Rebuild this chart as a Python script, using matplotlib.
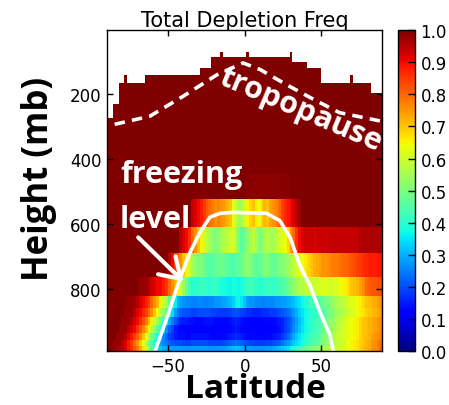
import numpy as np
import matplotlib
matplotlib.use("Agg")
import matplotlib.pyplot as plt

# Model level pressures (mb), used as cell corners of the height grid
levels = [3.64, 7.59, 14.36, 24.61, 38.27, 54.60, 72.01, 87.82, 103.32, 121.55,
          142.99, 168.23, 197.91, 232.83, 273.91, 322.24, 379.10, 445.99, 524.69,
          609.78, 691.39, 763.40, 820.86, 859.53, 887.02, 912.64, 936.20, 957.49,
          976.33, 992.56]
# Latitude cell corners
lat_edges = np.linspace(-90.0, 90.0, 96)

# Highest level (mb) with valid data in each latitude column
top_mb = ([273.91] * 2 + [232.83] * 2 + [168.23] * 2 + [142.99] + [168.23] * 6
          + [142.99] * 19 + [121.55] * 4 + [87.82] * 3 + [72.01] + [87.82] * 8
          + [72.01] + [87.82] * 14 + [72.01] + [103.32] * 5 + [121.55] * 5
          + [168.23] * 10 + [142.99] + [168.23] * 6 + [197.91] * 4)

# Depletion frequency per latitude column, one list per layer (named by top pressure)
freq_upper = [1.0] * 95
freq_446 = ([1.0] * 48
            + [0.99, 0.99, 0.985, 0.985, 0.985, 0.985, 0.985, 0.985, 0.985, 0.985,
               0.985, 0.99, 0.99, 0.99, 0.99]
            + [1.0] * 32)
freq_525 = ([1.0] * 29
            + [0.94, 0.92, 0.9, 0.88, 0.85, 0.82, 0.8, 0.78, 0.76, 0.77, 0.75, 0.74,
               0.72, 0.7, 0.62, 0.58, 0.55, 0.55, 0.6, 0.65, 0.68, 0.7, 0.66, 0.64,
               0.68, 0.72, 0.7, 0.74, 0.75, 0.77, 0.8, 0.84, 0.87, 0.89, 0.9, 0.92,
               0.95, 0.97]
            + [1.0] * 28)
freq_610 = ([1.0] * 25
            + [0.95, 0.92, 0.9, 0.86, 0.8, 0.75, 0.7, 0.65, 0.6, 0.58, 0.55, 0.52,
               0.5, 0.52, 0.55, 0.56, 0.58, 0.6, 0.6, 0.55, 0.5, 0.45, 0.48, 0.52,
               0.55, 0.58, 0.55, 0.5, 0.52, 0.55, 0.57, 0.55, 0.55, 0.58, 0.6, 0.62,
               0.64, 0.68, 0.75, 0.8, 0.86, 0.9]
            + [0.92, 0.93, 0.93, 0.93, 0.92, 0.93, 0.93, 0.94, 0.93, 0.93, 0.94]
            + [0.94] * 9 + [0.96] * 8)
freq_691 = ([1.0] * 21
            + [0.95, 0.9, 0.85, 0.8, 0.76, 0.7, 0.65, 0.6, 0.55, 0.52, 0.5]
            + [0.5, 0.48, 0.46, 0.45, 0.45, 0.47, 0.48, 0.48, 0.47]
            + [0.46, 0.45, 0.44, 0.45, 0.47, 0.48, 0.5]
            + [0.52, 0.5, 0.48, 0.46, 0.47, 0.48, 0.5, 0.5]
            + [0.48, 0.47, 0.48, 0.5, 0.5, 0.52, 0.54]
            + [0.55, 0.58, 0.6]
            + [0.62, 0.64, 0.66, 0.68]
            + [0.7, 0.72, 0.73, 0.74, 0.75, 0.75, 0.76, 0.77, 0.78]
            + [0.78, 0.79, 0.8, 0.8, 0.81, 0.82, 0.83, 0.84]
            + [0.85, 0.86, 0.87, 0.88, 0.88, 0.88, 0.89, 0.89])
freq_763 = ([1.0] * 11 + [0.98] * 3
            + [0.95, 0.93, 0.92, 0.9, 0.9, 0.88, 0.85, 0.8, 0.76, 0.72, 0.66, 0.6,
               0.54, 0.48, 0.43]
            + [0.4, 0.4, 0.41, 0.42, 0.42, 0.41, 0.4, 0.41, 0.42, 0.4, 0.38, 0.38]
            + [0.37, 0.37, 0.38, 0.38, 0.37, 0.38, 0.4, 0.42, 0.43, 0.42]
            + [0.41, 0.4, 0.4, 0.41, 0.42, 0.42, 0.41, 0.42, 0.43, 0.44, 0.46, 0.48, 0.5]
            + [0.52, 0.54, 0.56, 0.57, 0.58, 0.58]
            + [0.59, 0.6, 0.6, 0.61, 0.61, 0.62, 0.62, 0.6, 0.62, 0.62]
            + [0.64, 0.65, 0.66, 0.68, 0.7, 0.71]
            + [0.72, 0.74, 0.76]
            + [0.8, 0.81, 0.82, 0.82, 0.83, 0.83])
freq_821 = ([1.0, 1.0, 1.0, 1.0, 1.0, 1.0, 0.99, 0.98, 0.98, 0.97]
            + [0.95, 0.92, 0.9, 0.88, 0.85, 0.8, 0.76, 0.72, 0.65, 0.6, 0.55, 0.47,
               0.42, 0.36]
            + [0.3, 0.28, 0.27, 0.26, 0.26, 0.25, 0.25, 0.26, 0.26, 0.25, 0.25, 0.26,
               0.26, 0.27, 0.27, 0.28, 0.29]
            + [0.3, 0.31, 0.33, 0.36, 0.37, 0.35, 0.32]
            + [0.28, 0.27, 0.27, 0.26, 0.26, 0.25, 0.25, 0.26, 0.26, 0.26, 0.27, 0.27,
               0.28, 0.28, 0.29, 0.3, 0.31, 0.33]
            + [0.35, 0.37, 0.39, 0.41, 0.43, 0.44, 0.45]
            + [0.46, 0.47, 0.48, 0.5, 0.52, 0.54, 0.56, 0.57]
            + [0.58, 0.6, 0.61, 0.62, 0.63, 0.64]
            + [0.66, 0.68, 0.7, 0.71, 0.72, 0.73, 0.74, 0.75])
freq_860 = ([1.0] * 6 + [0.98] * 3
            + [0.95, 0.92, 0.9, 0.87, 0.84, 0.8, 0.76, 0.7, 0.64, 0.58, 0.52, 0.46,
               0.4, 0.34, 0.28]
            + [0.24, 0.22, 0.21, 0.2, 0.2, 0.19, 0.19, 0.2, 0.2, 0.2, 0.2, 0.2, 0.19,
               0.19, 0.18, 0.18, 0.18]
            + [0.18, 0.19, 0.2, 0.21, 0.2, 0.19, 0.18, 0.17, 0.17, 0.16, 0.16, 0.16,
               0.17, 0.17, 0.17, 0.18, 0.18]
            + [0.19, 0.2, 0.21, 0.22, 0.23, 0.25, 0.27, 0.3, 0.33]
            + [0.35, 0.37, 0.39, 0.4, 0.41, 0.42]
            + [0.43, 0.44, 0.46, 0.48, 0.5, 0.52, 0.54, 0.56]
            + [0.57, 0.58, 0.6, 0.61, 0.62, 0.64]
            + [0.66, 0.67, 0.69, 0.7, 0.71, 0.72, 0.73, 0.74])
freq_887 = ([1.0] * 5 + [0.98] * 3
            + [0.95, 0.92, 0.9, 0.87, 0.83, 0.78, 0.72, 0.66, 0.6, 0.54, 0.48, 0.42,
               0.36, 0.3, 0.25]
            + [0.21, 0.18, 0.16, 0.15, 0.15, 0.14, 0.14, 0.13, 0.13, 0.13, 0.14, 0.14,
               0.14, 0.14, 0.13, 0.13, 0.13, 0.13]
            + [0.13, 0.14, 0.15, 0.16, 0.15, 0.14, 0.13, 0.13, 0.12, 0.12, 0.12, 0.12,
               0.12, 0.12, 0.13, 0.13, 0.13, 0.14, 0.15, 0.16]
            + [0.18, 0.2, 0.22, 0.25, 0.28, 0.31, 0.34, 0.37]
            + [0.39, 0.41, 0.42, 0.43, 0.44, 0.46, 0.48, 0.5]
            + [0.52, 0.54, 0.56, 0.58, 0.6, 0.62, 0.63, 0.64, 0.65]
            + [0.66, 0.68, 0.7, 0.71, 0.72, 0.73, 0.74, 0.75, 0.76])
freq_913 = ([1.0] * 4 + [0.98] * 3
            + [0.95, 0.92, 0.9, 0.86, 0.82, 0.77, 0.71, 0.65, 0.58, 0.52, 0.46, 0.4,
               0.33, 0.27, 0.22]
            + [0.18, 0.15, 0.14, 0.13, 0.13, 0.12, 0.12, 0.12, 0.12, 0.12, 0.12, 0.12,
               0.13, 0.13, 0.12, 0.12, 0.12, 0.12, 0.12]
            + [0.12, 0.13, 0.14, 0.15, 0.14, 0.13, 0.12, 0.11, 0.11, 0.11, 0.11, 0.11,
               0.11, 0.11, 0.11, 0.12, 0.12, 0.13, 0.14, 0.16]
            + [0.18, 0.2, 0.23, 0.26, 0.29, 0.32, 0.35, 0.37]
            + [0.39, 0.41, 0.42, 0.43, 0.45, 0.47, 0.49, 0.51]
            + [0.53, 0.55, 0.57, 0.59, 0.61, 0.62, 0.63, 0.64, 0.65]
            + [0.66, 0.68, 0.7, 0.71, 0.72, 0.73, 0.74, 0.75, 0.76])
freq_936 = ([1.0] * 3 + [0.98] * 3
            + [0.95, 0.92, 0.89, 0.85, 0.81, 0.76, 0.7, 0.64, 0.57, 0.5, 0.44, 0.38,
               0.32, 0.26, 0.22]
            + [0.19, 0.17, 0.15, 0.14, 0.14, 0.14, 0.13, 0.13, 0.14, 0.14, 0.14, 0.14,
               0.14, 0.14, 0.14, 0.13, 0.13, 0.13, 0.13, 0.13]
            + [0.14, 0.15, 0.16, 0.17, 0.16, 0.15, 0.14, 0.13, 0.13, 0.13, 0.13, 0.12,
               0.12, 0.12, 0.13, 0.13, 0.14, 0.15, 0.16, 0.18]
            + [0.2, 0.23, 0.26, 0.29, 0.32, 0.35, 0.37, 0.39]
            + [0.41, 0.43, 0.44, 0.45, 0.47, 0.49, 0.51, 0.53]
            + [0.55, 0.57, 0.59, 0.6, 0.61, 0.62, 0.63, 0.64, 0.65]
            + [0.66, 0.68, 0.7, 0.71, 0.72, 0.74, 0.75, 0.76, 0.77])
freq_957 = ([1.0] * 2 + [0.98] * 3
            + [0.95, 0.92, 0.89, 0.85, 0.8, 0.75, 0.69, 0.63, 0.56, 0.5, 0.44, 0.38,
               0.33, 0.29, 0.26]
            + [0.24, 0.22, 0.21, 0.2, 0.2, 0.2, 0.19, 0.19, 0.19, 0.2, 0.2, 0.2, 0.2,
               0.2, 0.2, 0.19, 0.19, 0.19, 0.19, 0.19, 0.2]
            + [0.21, 0.22, 0.23, 0.24, 0.23, 0.22, 0.21, 0.2, 0.19, 0.19, 0.18, 0.18,
               0.18, 0.18, 0.19, 0.19, 0.2, 0.21, 0.22, 0.24]
            + [0.26, 0.28, 0.3, 0.32, 0.34, 0.36, 0.38, 0.4]
            + [0.42, 0.44, 0.45, 0.46, 0.48, 0.5, 0.52, 0.54]
            + [0.56, 0.57, 0.58, 0.59, 0.6, 0.62, 0.64, 0.65, 0.66]
            + [0.67, 0.69, 0.7, 0.72, 0.73, 0.75, 0.76, 0.78, 0.79])
freq_976 = ([1.0, 0.99, 0.98, 0.97, 0.96, 0.95, 0.92, 0.89, 0.86, 0.82, 0.78]
            + [0.73, 0.67, 0.6, 0.53, 0.46, 0.4, 0.35, 0.32]
            + [0.3, 0.29, 0.28, 0.28, 0.28, 0.28, 0.28, 0.28, 0.27, 0.27, 0.28, 0.28,
               0.28, 0.28, 0.28, 0.28, 0.27, 0.27, 0.27, 0.28, 0.28, 0.28]
            + [0.29, 0.3, 0.31, 0.32, 0.31, 0.3, 0.29, 0.28, 0.28, 0.27, 0.27, 0.27,
               0.27, 0.27, 0.28, 0.28, 0.29, 0.3, 0.31, 0.32]
            + [0.33, 0.35, 0.37, 0.39, 0.41, 0.43, 0.45, 0.47]
            + [0.48, 0.5, 0.51, 0.52, 0.53, 0.55, 0.56, 0.57]
            + [0.58, 0.59, 0.6, 0.61, 0.62, 0.63, 0.64, 0.65, 0.66]
            + [0.67, 0.69, 0.71, 0.72, 0.73, 0.75, 0.76, 0.78, 0.8])

# Freezing level (lat, mb)
freeze_lat = [-58.6, -51.0, -42.3, -35.7, -29.2, -22.7, -16.1, -7.4, 14.4, 23.1,
              29.7, 36.2, 42.7, 49.3, 55.8, 58.0]
freeze_p = [992, 892, 769, 688, 626, 580, 568, 565, 568, 591, 642, 729, 790, 872,
            943, 992]

# Tropopause (lat, mb)
tropo_lat = [-85, -62, -40, -18, -1, 10, 27, 45, 62, 90]
tropo_p = [294, 269, 207, 141, 105, 125, 171, 217, 258, 285]

cbar_ticks = [0.0, 0.1, 0.2, 0.3, 0.4, 0.5, 0.6, 0.7, 0.8, 0.9, 1.0]

# ---- assemble the latitude-height field ----
lower_rows = [freq_446, freq_525, freq_610, freq_691, freq_763, freq_821, freq_860,
              freq_887, freq_913, freq_936, freq_957, freq_976]
n_upper = len(levels) - 1 - len(lower_rows)
field = np.array([freq_upper] * n_upper + lower_rows, dtype=float)
row_tops = np.array(levels[:-1])
for j, top in enumerate(top_mb):
    field[row_tops < top - 0.01, j] = np.nan
field = np.ma.masked_invalid(field)

fig = plt.figure(figsize=(4.49, 4.06), dpi=100)
ax = fig.add_axes([0.2383, 0.1323, 0.6132, 0.7913])
mesh = ax.pcolormesh(lat_edges, levels, field, cmap="jet", vmin=0.0, vmax=1.0,
                     shading="flat")
ax.set_xlim(-90, 90)
ax.set_ylim(levels[-1], levels[0])
ax.set_xticks([-50, 0, 50])
ax.set_yticks([200, 400, 600, 800])
ax.tick_params(direction="in", top=True, right=True, length=4, width=1,
               labelsize=12, pad=4)
for s in ax.spines.values():
    s.set_linewidth(1.0)

ax.set_title("Total Depletion Freq", fontsize=15, pad=3)
ax.set_ylabel("Height (mb)", family="Open Sans", fontweight="bold", fontsize=25)
ax.set_xlabel("Latitude", family="Open Sans", fontweight="bold", fontsize=24)
ax.yaxis.set_label_coords(-0.183, 0.541)
ax.xaxis.set_label_coords(0.538, -0.066)

ax.plot(freeze_lat, freeze_p, color="white", lw=2.6, solid_capstyle="butt")
ax.plot(tropo_lat, tropo_p, color="white", lw=2.6, linestyle=(0, (2.9, 2.0)))

ax.text(36.5, 246, "tropopause", color="white", family="Open Sans",
        fontweight="bold", fontsize=22, rotation=-23, ha="center", va="center")
ax.text(-81.5, 472, "freezing", color="white", family="Open Sans",
        fontweight="bold", fontsize=22, ha="left", va="baseline")
ax.text(-81.5, 610, "level", color="white", family="Open Sans",
        fontweight="bold", fontsize=22, ha="left", va="baseline")
ax.annotate("", xy=(-40.0, 778), xytext=(-69.6, 642),
            arrowprops=dict(arrowstyle="->,head_length=0.7,head_width=0.45",
                            color="white", lw=3, mutation_scale=20,
                            shrinkA=0, shrinkB=0))

cax = fig.add_axes([0.8864, 0.1323, 0.0379, 0.7913])
cb = fig.colorbar(mesh, cax=cax, ticks=cbar_ticks)
cb.ax.set_yticklabels([f"{t:.1f}" for t in cbar_ticks])
cb.ax.tick_params(direction="in", length=5, width=1, labelsize=12, pad=4)
cb.outline.set_linewidth(1.0)

fig.savefig("out.png", dpi=100)
